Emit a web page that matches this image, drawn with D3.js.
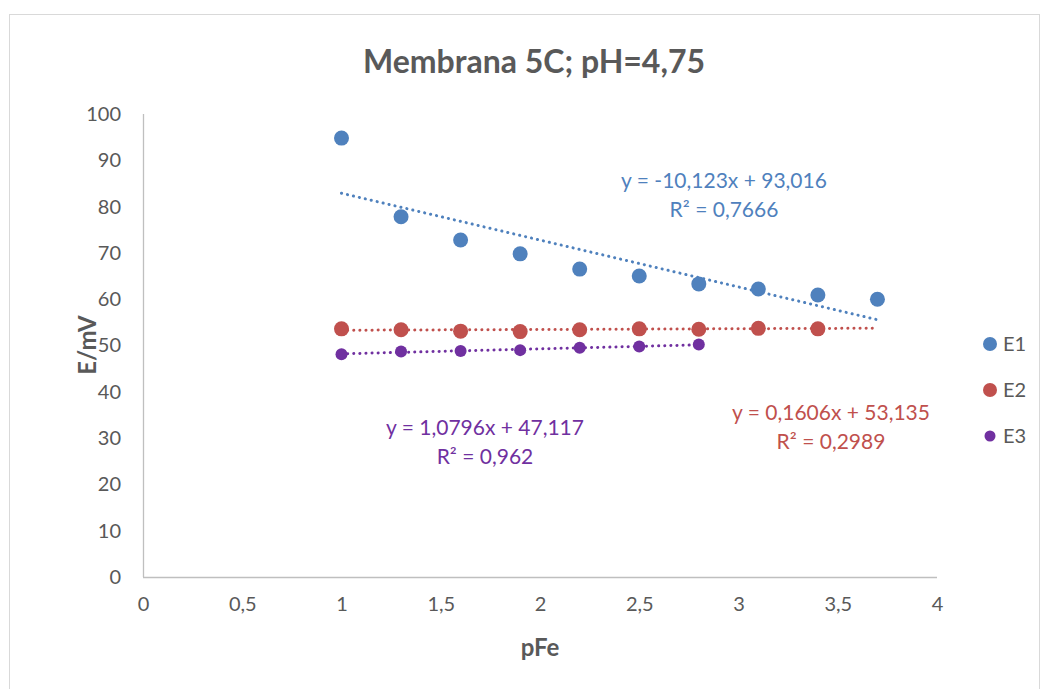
<!DOCTYPE html>
<html><head><meta charset="utf-8">
<script src="https://cdn.jsdelivr.net/npm/d3@7"></script>
<style>body{margin:0;background:#fff}svg{display:block}text{font-family:Lato,"Open Sans",sans-serif}</style>
</head><body><svg id="c" width="1042" height="689"></svg>
<script>
const pFe = [1, 1.3, 1.6, 1.9, 2.2, 2.5, 2.8, 3.1, 3.4, 3.7];
const E1 = [94.8, 77.8, 72.8, 69.8, 66.5, 65.0, 63.3, 62.2, 60.9, 60.0];
const E2 = [53.6, 53.4, 53.1, 53.0, 53.4, 53.6, 53.5, 53.7, 53.6];
const E3 = [48.1, 48.7, 48.8, 49.0, 49.5, 49.8, 50.2];
const seriesNames = ["E1", "E2", "E3"];
const slopes = [-10.123, 0.1606, 1.0796];
const intercepts = [93.016, 53.135, 47.117];
const trendRanges = [[1, 3.7], [1, 3.7], [1, 2.8]];
const eqLabels = ["y = -10,123x + 93,016", "y = 0,1606x + 53,135", "y = 1,0796x + 47,117"];
const r2Labels = ["R² = 0,7666", "R² = 0,2989", "R² = 0,962"];
const xTicks = [0, 0.5, 1, 1.5, 2, 2.5, 3, 3.5, 4];
const yTicks = [0, 10, 20, 30, 40, 50, 60, 70, 80, 90, 100];

const colors = ["#4f81bd", "#c0504d", "#7030a0"];
const radii = [7.5, 7.5, 6];
const eqPos = [[724, 188], [831, 420], [485, 435]];

const svg = d3.select("#c");
svg.append("rect").attr("x", 9.5).attr("y", 14.5).attr("width", 1030).attr("height", 690)
  .attr("fill", "#fff").attr("stroke", "#d9d9d9");

const x = d3.scaleLinear().domain([0, 4]).range([143, 937]);
const y = d3.scaleLinear().domain([0, 100]).range([577, 114]);
const fmt = v => String(v).replace(".", ",");

svg.append("text").attr("x", 534).attr("y", 73).attr("text-anchor", "middle")
  .attr("font-size", 32).attr("font-weight", "bold").attr("fill", "#595959")
  .text("Membrana 5C; pH=4,75");

const yAxis = svg.append("g").attr("transform", "translate(143,0)")
  .call(d3.axisLeft(y).tickValues(yTicks).tickSize(0).tickPadding(22).tickFormat(fmt));
const xAxis = svg.append("g").attr("transform", "translate(0,577)")
  .call(d3.axisBottom(x).tickValues(xTicks).tickSize(0).tickPadding(20).tickFormat(fmt));
[yAxis, xAxis].forEach(a => {
  a.select(".domain").attr("stroke", "#bfbfbf").attr("stroke-width", 1.3);
  a.selectAll("text").attr("font-size", 20).attr("fill", "#595959").attr("font-family", "Lato,sans-serif");
});
xAxis.select(".domain").attr("d", "M143,0.5H937");
yAxis.select(".domain").attr("d", "M0.5,114V577");

svg.append("text").attr("transform", "translate(96,345) rotate(-90)").attr("text-anchor", "middle")
  .attr("font-size", 24).attr("font-weight", "bold").attr("fill", "#595959").text("E/mV");
svg.append("text").attr("x", 540).attr("y", 656).attr("text-anchor", "middle")
  .attr("font-size", 24).attr("font-weight", "bold").attr("fill", "#595959").text("pFe");

const data = [E1, E2, E3];
data.forEach((vals, i) => {
  const [a, b] = trendRanges[i];
  svg.append("line")
    .attr("x1", x(a)).attr("y1", y(slopes[i] * a + intercepts[i]))
    .attr("x2", x(b)).attr("y2", y(slopes[i] * b + intercepts[i]))
    .attr("stroke", colors[i]).attr("stroke-width", 3).attr("stroke-linecap", "round")
    .attr("stroke-dasharray", "0.1,6");
});
data.forEach((vals, i) => {
  svg.append("g").selectAll("circle").data(vals).join("circle")
    .attr("cx", (d, j) => x(pFe[j])).attr("cy", d => y(d)).attr("r", radii[i])
    .attr("fill", colors[i]);
});
data.forEach((vals, i) => {
  const t = svg.append("text").attr("text-anchor", "middle").attr("font-size", 21).attr("fill", colors[i]);
  t.append("tspan").attr("x", eqPos[i][0]).attr("y", eqPos[i][1]).text(eqLabels[i]);
  t.append("tspan").attr("x", eqPos[i][0]).attr("y", eqPos[i][1] + 29).text(r2Labels[i]);
});

const leg = svg.append("g");
seriesNames.forEach((n, i) => {
  const ly = 344 + i * 46;
  leg.append("circle").attr("cx", 990).attr("cy", ly).attr("r", i === 2 ? 5.5 : 7).attr("fill", colors[i]);
  leg.append("text").attr("x", 1003).attr("y", ly + 7).attr("font-size", 20).attr("fill", "#595959").text(n);
});
</script></body></html>
